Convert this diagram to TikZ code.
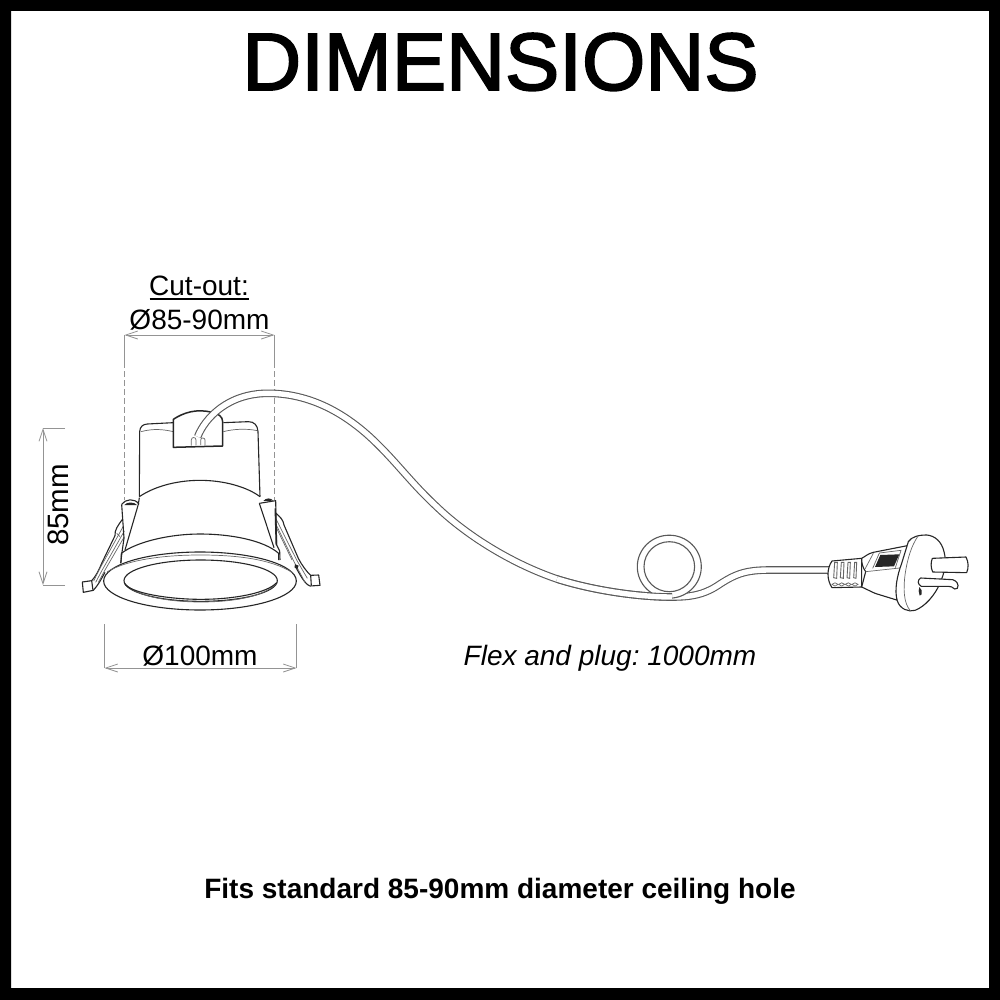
\documentclass[tikz,border=0pt]{standalone}
\usepackage{fontspec}
\setmainfont{Liberation Sans}
\newfontfamily\titlefont[FakeBold=2.2]{Liberation Sans}
\frenchspacing
\usetikzlibrary{arrows.meta}
\definecolor{dimgray}{gray}{0.58}
\definecolor{ink}{gray}{0.15}
\tikzset{
  dimline/.style={draw=dimgray,line width=0.9pt},
  dimarrow/.style={dimline,{Straight Barb[length=12pt,width=8pt,line width=0.8pt]}-{Straight Barb[length=12pt,width=8pt,line width=0.8pt]}},
  guide/.style={dimline,dashed,dash pattern=on 6pt off 3pt},
  lamp/.style={draw=ink,line width=1.1pt,line join=round},
  thin lamp/.style={draw=ink!70,line width=0.7pt},
  label/.style={inner sep=0pt,anchor=base,font=\fontsize{28}{28}\selectfont,text=black},
  wire/.style={draw=black!65,double=white,line width=1.1pt,double distance=5.4pt},
}
\begin{document}
\begin{tikzpicture}[x=1pt,y=-1pt]
\useasboundingbox (0,0) rectangle (1000,1000);
\fill[white] (0,0) rectangle (1000,1000);
\fill[black,even odd rule] (0,0) rectangle (1000,1000) (11,11) rectangle (989,988);
\node[inner sep=0pt,anchor=base] (title) at (500.5,90) {\fontsize{81.5}{82}\selectfont\titlefont DIMENSIONS};
\node[label] (fits) at (500,898) {\bfseries Fits standard 85-90mm diameter ceiling hole};
\node[label] (flex) at (610,665) {\itshape Flex and plug: 1000mm};
\node[label] (cut) at (199,295) {Cut-out:};
\draw[black,line width=1.4pt] (149.5,299) -- (248.5,299);
\node[label] (phi85) at (199.5,329) {Ø85-90mm};
\node[label] (phi100) at (200,665) {Ø100mm};
\node[label,rotate=90,font=\fontsize{29.5}{30}\selectfont] (h85) at (68,505) {85mm};

% dimensions
\coordinate (ca) at (124.5,335);\coordinate (cb) at (274.5,335);
\coordinate (cal) at (124.5,500);\coordinate (cbl) at (274.5,500);
\draw[dimline] (ca) -- ++(0,27);\draw[dimline] (cb) -- ++(0,27);
\draw[guide] (124.5,362) -- (cal);\draw[guide] (274.5,362) -- (cbl);
\draw[dimarrow] (ca) -- (cb);
\coordinate (da) at (104.5,668);\coordinate (db) at (296.5,668);
\draw[dimline] (104.5,624) -- (da);\draw[dimline] (296.5,624) -- (db);
\draw[dimarrow] (da) -- (db);
\coordinate (ea) at (43,428);\coordinate (eb) at (43,585);
\draw[dimline] (65,428) -- (ea);\draw[dimline] (65,585) -- (eb);
\draw[dimarrow] (ea) -- (eb);

% left clip
\begin{scope}[xshift=75pt,yshift=-495pt,x=0.33333pt,y=-0.33333pt]
  \draw[lamp] (143,72) .. controls (130,90) and (118,105) .. (120,122) -- (80,205) .. controls (72,225) and (62,245) .. (50,257) -- (22,261) -- (25,292) -- (55,286) .. controls (70,270) and (80,250) .. (90,232);
  \draw[lamp] (50,257) -- (54,286);
  \draw[thin lamp] (146,92) -- (72,225) -- (56,258);
  \draw[thin lamp] (148,108) -- (80,228) -- (62,262);
  \draw[thin lamp] (148,125) -- (90,225) -- (70,262);
  \draw[thin lamp] (125,115) -- (135,125);
  \draw[lamp] (140,28) -- (147,130) -- (141,172) -- (137,205);
  \draw[lamp] (140,28) .. controls (150,12) and (180,8) .. (192,28);
  \fill[ink] (148,30) .. controls (155,20) and (178,20) .. (186,30) -- cycle;
  \draw[lamp] (193,8) -- (190,28) -- (150,165);
\end{scope}
% right clip
\begin{scope}[xshift=250pt,yshift=-495pt,x=0.33333pt,y=-0.33333pt]
  \draw[lamp] (78,55) .. controls (90,65) and (100,75) .. (102,90) -- (145,190) .. controls (155,210) and (170,230) .. (182,241) -- (206,240) -- (210,271) -- (180,273) .. controls (165,268) and (150,240) .. (135,212);
  \draw[lamp] (182,241) -- (184,272);
  \draw[thin lamp] (78,72) -- (140,195) -- (172,250);
  \draw[thin lamp] (78,88) -- (132,200) -- (165,262);
  \draw[thin lamp] (80,100) -- (126,195);
  \fill[ink] (135,208) -- (146,212) -- (142,222) -- (134,218) -- cycle;
  \draw[lamp] (28,25) -- (77,17) -- (80,150) -- (89,168) -- (90,195);
  \draw[lamp] (28,25) -- (72,158);
  \draw[lamp,line width=1.6pt] (76,40) -- (79,150);
  \fill[ink] (40,18) .. controls (47,8) and (63,8) .. (70,17) -- cycle;
\end{scope}

% lamp, drawn in the coordinates of a 3x crop
\begin{scope}[xshift=30pt,yshift=-380pt,x=0.33333pt,y=-0.33333pt]
  % cup
  \draw[lamp] (328,350) -- (329,155) .. controls (330,140) and (338,133) .. (352,132) -- (430,128);
  \draw[lamp] (580,128) -- (655,125) .. controls (672,125) and (683,135) .. (684,155) -- (690,350);
  \draw[thin lamp] (333,155) .. controls (370,145) and (400,148) .. (430,155);
  \draw[thin lamp] (580,155) .. controls (610,147) and (650,145) .. (682,152);
  % cone
  \draw[lamp] (328,350) .. controls (380,315) and (450,301) .. (510,301) .. controls (580,301) and (650,320) .. (690,350);
  % lower body
  \draw[lamp] (273,548) -- (274,520) .. controls (320,485) and (420,462) .. (510,462) .. controls (600,462) and (700,480) .. (746,520) -- (746,540);
  % flange
  \draw[lamp,fill=white] (510,603) ellipse [x radius=289,y radius=87];
  \draw[thin lamp] (232,575) .. controls (300,535) and (420,525) .. (510,525) .. controls (610,525) and (720,535) .. (788,578);
  % aperture
  \draw[lamp] (512,602) ellipse [x radius=230,y radius=62];
  \draw[thin lamp] (286,612) .. controls (320,650) and (420,666) .. (512,666) .. controls (610,666) and (700,650) .. (738,612);
  \draw[lamp] (284,610) .. controls (300,640) and (420,658) .. (512,658) .. controls (610,658) and (710,640) .. (740,608);
  % connector box
  \draw[lamp,line width=1.5pt,fill=white] (430,202) -- (430,118) .. controls (460,98) and (500,85) .. (545,97) .. controls (565,100) and (578,110) .. (578,125) -- (578,198) -- cycle;
  \draw[thin lamp] (484,197) -- (484,180) .. controls (484,170) and (498,170) .. (498,180) -- (498,195);
  \draw[thin lamp] (512,195) -- (512,180) .. controls (512,172) and (525,172) .. (525,180) -- (525,195);
\end{scope}

% wire
\coordinate (wa) at (197.7,436.7);
\coordinate (wn) at (557,579);
\coordinate (wm) at (672,597);
\coordinate (wb) at (830,570);
\draw[wire] (wa) .. controls (205,418) and (228,393.3) .. (268,393.3)
  .. controls (300,393.3) and (335,405) .. (370,437)
  .. controls (395,460) and (410,482) .. (437,507)
  .. controls (465,534) and (510,563) .. (wn)
  .. controls (595,591) and (640,597) .. (wm)
  .. controls (690,597) and (703,595) .. (717,586)
  .. controls (735,574) and (745,570) .. (770,570) -- (wb);
% loop
\draw[lamp,draw=black!65,fill=white,even odd rule] (669.3,566.7) ellipse [x radius=32,y radius=31.5] (669.3,566.7) ellipse [x radius=25.3,y radius=25];
\draw[wire] (wn) .. controls (595,591) and (640,597) .. (wm);

% plug
\begin{scope}[xshift=820pt,yshift=-525pt,x=0.33333pt,y=-0.33333pt]
  % strain relief
  \draw[lamp,fill=white] (36,108) -- (125,100) -- (125,186) -- (36,188) .. controls (20,165) and (20,130) .. (36,108) -- cycle;
  \foreach \x/\s in {44/4,64/4,84/3,104/2}{
    \draw[thin lamp,line width=0.9pt,fill=white] (\x,112) -- (\x+\s+4,112) -- (\x+\s+2,160) -- (\x-3,158) -- cycle;
    \draw[thin lamp] (\x-8,178) .. controls (\x-4,172) and (\x+6,172) .. (\x+10,178) .. controls (\x+6,185) and (\x-4,185) .. (\x-8,178) -- cycle;
  }
  % body
  \draw[lamp,fill=white] (125,100) .. controls (135,95) and (145,85) .. (160,82) -- (262,62) -- (230,225) -- (165,205) -- (125,186) -- (137,140) .. controls (128,128) and (125,115) .. (125,100) -- cycle;
  \draw[thin lamp] (135,132) -- (160,85);
  \draw[thin lamp] (137,140) -- (248,128);
  \draw[thin lamp] (158,130) -- (178,84) -- (243,76) -- (226,128);
  \fill[ink] (165,126) -- (181,90) -- (238,88) -- (222,124) -- cycle;
  % head
  \draw[lamp,fill=white] (265,50) .. controls (275,35) and (295,30) .. (320,30) .. controls (345,32) and (365,50) .. (372,80) .. controls (380,110) and (375,140) .. (360,175) .. controls (345,210) and (315,245) .. (285,256) .. controls (265,262) and (240,252) .. (232,228) .. controls (222,195) and (232,150) .. (245,115) -- cycle;
  \draw[thin lamp] (295,32) .. controls (275,60) and (262,100) .. (255,150) .. controls (250,190) and (250,235) .. (272,258);
  % pins
  \draw[lamp,fill=white] (337,100) -- (438,96) .. controls (446,112) and (446,128) .. (440,143) -- (338,141) .. controls (332,128) and (332,112) .. (337,100) -- cycle;
  \draw[lamp,fill=white] (302,159) -- (398,164) .. controls (410,168) and (418,178) .. (412,190) -- (404,192) .. controls (398,186) and (392,184) .. (385,184) -- (304,184) .. controls (292,178) and (292,165) .. (302,159) -- cycle;
  \fill[ink] (298,186) -- (305,196) -- (305,208) -- (299,212) -- (296,198) -- cycle;
\end{scope}
\end{tikzpicture}
\end{document}
